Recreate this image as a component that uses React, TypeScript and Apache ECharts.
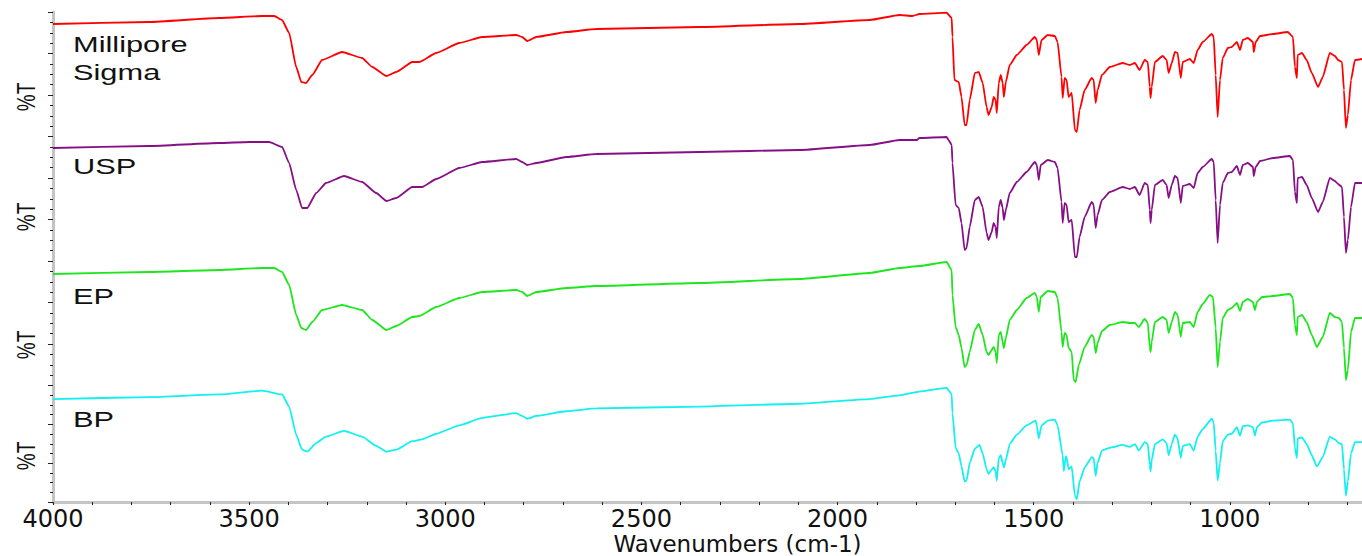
import React, { useEffect, useRef } from "react";
import * as echarts from "echarts";

// Sample names (one spectrum each, stacked top to bottom)
const sampleNames = ["Millipore\nSigma", "USP", "EP", "BP"];
const sampleColors = ["#ff0000", "#860f86", "#1ee61e", "#12f0f0"];

// x axis tick labels (wavenumbers, cm-1) and minor tick positions
const xTickLabels = [4000, 3500, 3000, 2500, 2000, 1500, 1000];
const xMinorTicks = [4000, 3900, 3800, 3700, 3600, 3500, 3400, 3300, 3200, 3100, 3000, 2900, 2800, 2700, 2600, 2500, 2400, 2300, 2200, 2100, 2000, 1900, 1800, 1700, 1600, 1500, 1400, 1300, 1200, 1100, 1000, 900, 800, 700];

// Spectra: [wavenumber, %T (arbitrary offset units)]
const milliporeSigma = [
  [4000, 112.5], [3755, 114.5], [3577, 118.5], [3467, 120.5], [3436, 120.5], [3416, 116.5], [3398, 103.5], [3380, 69.5], [3367, 54.5], [3355, 53.5],
  [3339, 61.5], [3314, 76.5], [3263, 84.5], [3212, 78.5], [3186, 69.5], [3150, 60.5], [3125, 64.5], [3084, 74.5], [3066, 74.5], [3023, 83.5],
  [2964, 93.5], [2906, 99.5], [2819, 101.5], [2804, 99.5], [2791, 95.5], [2768, 99.5], [2691, 104.5], [2615, 107.5], [2352, 109.5], [2097, 112.5],
  [1918, 116.5], [1842, 121.5], [1809, 120.5], [1791, 122.5], [1722, 123.8], [1709, 118.5], [1707, 99.5], [1702, 56.5], [1691, 54.5], [1684, 39.5],
  [1676, 11.5], [1671, 11.5], [1663, 36.5], [1650, 63.5], [1640, 64.5], [1630, 53.5], [1620, 29.5], [1615, 21.5], [1607, 29.5], [1602, 39.5],
  [1597, 36.5], [1594, 23.5], [1589, 53.5], [1584, 61.5], [1579, 53.5], [1576, 39.5], [1571, 54.5], [1561, 71.5], [1543, 81.5], [1518, 91.5],
  [1497, 99.5], [1492, 96.5], [1487, 81.5], [1480, 96.5], [1464, 101.5], [1446, 100.5], [1439, 94.5], [1429, 59.5], [1426, 38.5], [1421, 58.5],
  [1416, 56.5], [1411, 39.5], [1403, 43.5], [1395, 6.5], [1390, 4.5], [1383, 26.5], [1370, 46.5], [1352, 58.5], [1347, 56.5], [1342, 33.5],
  [1337, 46.5], [1326, 61.5], [1306, 69.5], [1273, 73.5], [1255, 71.5], [1242, 73.5], [1230, 66.5], [1217, 76.5], [1209, 74.5], [1204, 49.5],
  [1202, 38.5], [1199, 49.5], [1191, 74.5], [1171, 80.5], [1161, 76.5], [1156, 63.5], [1148, 73.5], [1140, 84.5], [1133, 83.5], [1125, 58.5],
  [1120, 74.5], [1102, 77.5], [1092, 73.5], [1082, 86.5], [1069, 94.5], [1046, 102.5], [1041, 99.5], [1036, 61.5], [1031, 19.5], [1025, 56.5],
  [1018, 78.5], [1005, 88.5], [995, 89.5], [982, 94.5], [974, 86.5], [967, 96.5], [954, 98.5], [941, 94.5], [939, 84.5], [934, 94.5],
  [923, 100.5], [890, 102.5], [852, 104.5], [839, 99.5], [834, 69.5], [829, 58.5], [827, 81.5], [816, 83.5], [804, 76.5], [791, 63.5],
  [775, 49.5], [763, 59.5], [745, 83.5], [732, 80.5], [724, 76.5], [714, 74.5], [709, 46.5], [704, 8.5], [699, 21.5], [691, 56.5],
  [681, 76.5], [663, 77.5],
];

const usp = [
  [4000, 113], [3755, 115], [3577, 118], [3500, 119], [3449, 119], [3416, 114], [3398, 98], [3380, 71], [3365, 53], [3352, 53],
  [3329, 68], [3304, 78], [3258, 85], [3212, 79], [3176, 68], [3150, 60], [3125, 63], [3084, 74], [3059, 74], [3023, 82],
  [2964, 93], [2906, 99], [2819, 102], [2804, 99], [2791, 96], [2768, 98], [2691, 104], [2615, 107], [2352, 109], [2097, 111],
  [1918, 116], [1842, 121], [1798, 121], [1791, 123], [1722, 124], [1717, 121], [1709, 116], [1707, 98], [1699, 56], [1691, 53],
  [1684, 38], [1676, 11], [1671, 13], [1663, 34], [1650, 61], [1640, 64], [1630, 54], [1620, 28], [1615, 21], [1607, 29],
  [1602, 38], [1597, 34], [1594, 23], [1589, 54], [1584, 61], [1579, 53], [1576, 41], [1571, 51], [1561, 68], [1543, 79],
  [1518, 89], [1497, 99], [1492, 96], [1487, 81], [1482, 96], [1464, 101], [1446, 99], [1439, 93], [1429, 59], [1426, 38],
  [1421, 58], [1416, 56], [1411, 39], [1403, 41], [1395, 4], [1390, 4], [1383, 24], [1370, 44], [1352, 59], [1347, 56],
  [1342, 33], [1337, 46], [1326, 61], [1306, 69], [1273, 74], [1255, 72], [1242, 74], [1230, 66], [1217, 78], [1209, 76],
  [1204, 51], [1202, 38], [1199, 51], [1191, 76], [1171, 81], [1161, 76], [1156, 63], [1148, 76], [1140, 85], [1133, 83],
  [1125, 58], [1120, 75], [1102, 77], [1092, 73], [1082, 88], [1069, 94], [1046, 102], [1041, 99], [1036, 61], [1031, 18],
  [1025, 56], [1018, 78], [1005, 88], [995, 89], [982, 95], [974, 86], [967, 96], [954, 98], [941, 94], [939, 85],
  [934, 94], [923, 100], [890, 103], [847, 105], [839, 101], [834, 69], [829, 58], [827, 83], [816, 84], [804, 76],
  [791, 63], [775, 49], [763, 59], [745, 83], [732, 80], [724, 77], [714, 74], [709, 44], [704, 8], [699, 21],
  [691, 54], [681, 78], [663, 78],
];

const ep = [
  [4000, 111.5], [3755, 113.5], [3577, 115.5], [3467, 117.5], [3436, 117.5], [3416, 113.5], [3398, 100.5], [3380, 70.5], [3367, 57.5], [3355, 55.5],
  [3339, 63.5], [3314, 75.5], [3263, 80.5], [3212, 75.5], [3186, 65.5], [3150, 55.5], [3125, 59.5], [3084, 68.5], [3066, 69.5], [3023, 78.5],
  [2964, 87.5], [2906, 93.5], [2819, 95.5], [2804, 93.5], [2791, 89.5], [2768, 93.5], [2691, 97.5], [2615, 99.5], [2352, 102.5], [2097, 106.5],
  [1918, 112.5], [1842, 117.5], [1791, 119.5], [1722, 123.5], [1709, 115.5], [1707, 90.5], [1699, 58.5], [1691, 50.5], [1684, 37.5], [1676, 18.5],
  [1671, 20.5], [1663, 33.5], [1650, 55.5], [1640, 61.5], [1630, 50.5], [1620, 33.5], [1615, 30.5], [1607, 35.5], [1602, 38.5], [1597, 33.5],
  [1594, 22.5], [1589, 50.5], [1584, 53.5], [1579, 43.5], [1576, 37.5], [1571, 47.5], [1561, 65.5], [1543, 75.5], [1518, 87.5], [1497, 92.5],
  [1492, 88.5], [1487, 73.5], [1482, 88.5], [1464, 94.5], [1446, 93.5], [1439, 87.5], [1429, 53.5], [1426, 38.5], [1421, 52.5], [1416, 50.5],
  [1411, 37.5], [1403, 33.5], [1398, 5.5], [1393, 3.5], [1385, 20.5], [1370, 38.5], [1352, 50.5], [1347, 48.5], [1342, 32.5], [1337, 42.5],
  [1326, 54.5], [1306, 60.5], [1273, 63.5], [1255, 62.5], [1242, 62.5], [1232, 58.5], [1217, 66.5], [1209, 62.5], [1204, 38.5], [1202, 33.5],
  [1199, 43.5], [1191, 63.5], [1171, 68.5], [1161, 65.5], [1156, 52.5], [1148, 63.5], [1140, 73.5], [1133, 70.5], [1125, 48.5], [1120, 62.5],
  [1102, 63.5], [1092, 58.5], [1082, 73.5], [1069, 81.5], [1051, 90.5], [1043, 88.5], [1036, 57.5], [1031, 18.5], [1025, 43.5], [1018, 67.5],
  [1005, 75.5], [995, 77.5], [982, 82.5], [974, 74.5], [967, 83.5], [954, 86.5], [941, 83.5], [936, 75.5], [931, 83.5], [918, 88.5],
  [890, 89.5], [847, 91.5], [839, 87.5], [834, 60.5], [829, 50.5], [827, 68.5], [816, 70.5], [804, 63.5], [791, 50.5], [778, 38.5],
  [763, 48.5], [745, 72.5], [732, 68.5], [722, 67.5], [714, 63.5], [709, 37.5], [704, 5.5], [699, 15.5], [691, 53.5], [681, 67.5],
  [663, 67.5],
];

const bp = [
  [4000, 110], [3755, 112], [3577, 115], [3467, 119], [3416, 115], [3398, 102], [3380, 72], [3365, 56], [3352, 54], [3329, 63],
  [3304, 70], [3258, 76], [3212, 70], [3176, 60], [3150, 54], [3125, 56], [3084, 65], [3059, 67], [3023, 73], [2964, 82],
  [2906, 90], [2819, 95], [2804, 92], [2791, 89], [2768, 92], [2691, 97], [2615, 100], [2352, 102], [2097, 105], [1918, 110],
  [1842, 114], [1791, 118], [1722, 122], [1709, 115], [1707, 95], [1699, 58], [1691, 52], [1684, 38], [1676, 22], [1671, 23],
  [1663, 42], [1650, 57], [1638, 61], [1630, 52], [1620, 35], [1615, 30], [1607, 35], [1602, 37], [1597, 33], [1594, 23],
  [1589, 47], [1584, 50], [1579, 42], [1576, 37], [1571, 45], [1561, 62], [1543, 72], [1518, 82], [1495, 87], [1492, 82],
  [1487, 68], [1480, 82], [1464, 87], [1446, 88], [1439, 82], [1426, 50], [1423, 33], [1418, 49], [1416, 48], [1411, 35],
  [1403, 38], [1395, 7], [1390, 3], [1383, 22], [1370, 37], [1352, 48], [1347, 47], [1342, 28], [1337, 42], [1326, 55],
  [1306, 58], [1273, 61], [1255, 59], [1242, 62], [1232, 55], [1217, 64], [1209, 62], [1204, 40], [1202, 33], [1199, 45],
  [1191, 62], [1171, 67], [1161, 63], [1156, 50], [1148, 62], [1140, 72], [1133, 68], [1125, 47], [1120, 60], [1102, 62],
  [1092, 55], [1082, 70], [1069, 78], [1046, 89], [1041, 85], [1036, 55], [1031, 23], [1025, 42], [1018, 65], [1005, 72],
  [995, 73], [982, 80], [974, 71], [967, 81], [954, 82], [941, 80], [936, 71], [931, 80], [918, 85], [890, 87],
  [847, 88], [839, 84], [834, 58], [829, 47], [827, 68], [816, 69], [804, 62], [791, 50], [778, 38], [763, 48],
  [745, 70], [732, 67], [722, 63], [714, 62], [709, 35], [704, 7], [699, 22], [691, 52], [681, 64], [663, 64],
];

const spectra = [milliporeSigma, usp, ep, bp];

// "%T" label centres and sample label positions (layout only)
const percentTLabelY = [97, 217, 345, 456];
const sampleLabelY = [59, 167, 297, 420];

const GRID_LEFT = 53;
const GRID_TOP = 12;
const PANEL_H = 124.5;
const X_MIN = 663;
const X_MAX = 4000;

function buildOption() {
  const grids = spectra.map((_, i) => ({
    left: GRID_LEFT,
    right: 0,
    top: GRID_TOP + i * PANEL_H,
    height: PANEL_H,
  }));

  const xAxes = spectra.map((_, i) => {
    const isBottom = i === spectra.length - 1;
    return {
      gridIndex: i,
      type: "value",
      inverse: true,
      min: X_MIN,
      max: X_MAX,
      show: isBottom,
      name: isBottom ? "Wavenumbers (cm-1)" : "",
      nameLocation: "middle",
      nameGap: 22,
      nameTextStyle: {
        fontFamily: "DejaVu Sans",
        fontSize: 23,
        color: "#111",
        padding: [0, 0, 0, 60],
      },
      axisLine: { show: true, onZero: false, lineStyle: { color: "#c4c4c4", width: 3 } },
      axisTick: {
        show: true,
        customValues: xMinorTicks,
        length: 3,
        lineStyle: { color: "#222", width: 1 },
      },
      axisLabel: {
        show: true,
        customValues: xTickLabels,
        formatter: (v: number) => String(v),
        margin: 5,
        fontFamily: "DejaVu Sans",
        fontSize: 24,
        color: "#111",
        hideOverlap: false,
      },
      splitLine: { show: false },
    };
  });

  const yAxes = spectra.map((_, i) => ({
    gridIndex: i,
    type: "value",
    min: 0,
    max: 124.5,
    interval: 41.5,
    axisLine: { show: true, lineStyle: { color: "#c4c4c4", width: 3 } },
    axisTick: { show: true, length: 5, lineStyle: { color: "#222", width: 1 } },
    minorTick: { show: true, splitNumber: 4, length: 3, lineStyle: { color: "#222", width: 1 } },
    axisLabel: { show: false },
    splitLine: { show: false },
  }));

  const series = spectra.map((data, i) => ({
    name: sampleNames[i].replace("\n", " "),
    type: "line",
    xAxisIndex: i,
    yAxisIndex: i,
    data,
    showSymbol: false,
    symbol: "none",
    clip: false,
    smooth: 0.15,
    smoothMonotone: "x",
    lineStyle: { color: sampleColors[i], width: 1.8 },
    itemStyle: { color: sampleColors[i] },
  }));

  const graphic: any[] = [];
  percentTLabelY.forEach((y) => {
    graphic.push({
      type: "text",
      x: 26,
      y,
      rotation: Math.PI / 2,
      scaleY: 1.4,
      style: {
        text: "%T",
        fontFamily: "Liberation Sans",
        fontSize: 19,
        fill: "#111",
        align: "center",
        verticalAlign: "middle",
      },
    });
  });
  sampleNames.forEach((name, i) => {
    graphic.push({
      type: "text",
      x: 73,
      y: sampleLabelY[i],
      scaleX: 1.4,
      style: {
        text: name,
        fontFamily: "Liberation Sans",
        fontSize: 22,
        lineHeight: 28,
        fill: "#111",
        align: "left",
        verticalAlign: "middle",
      },
    });
  });

  return {
    animation: false,
    backgroundColor: "#ffffff",
    grid: grids,
    xAxis: xAxes,
    yAxis: yAxes,
    series,
    graphic,
  };
}

export default function App() {
  const ref = useRef<HTMLDivElement>(null);
  useEffect(() => {
    if (!ref.current) return;
    const chart = echarts.init(ref.current, null, { renderer: "svg" });
    chart.setOption(buildOption() as any);
    return () => {
      chart.dispose();
    };
  }, []);
  return (
    <div
      ref={ref}
      style={{ position: "absolute", left: 0, top: 0, width: 1362, height: 556 }}
    />
  );
}
